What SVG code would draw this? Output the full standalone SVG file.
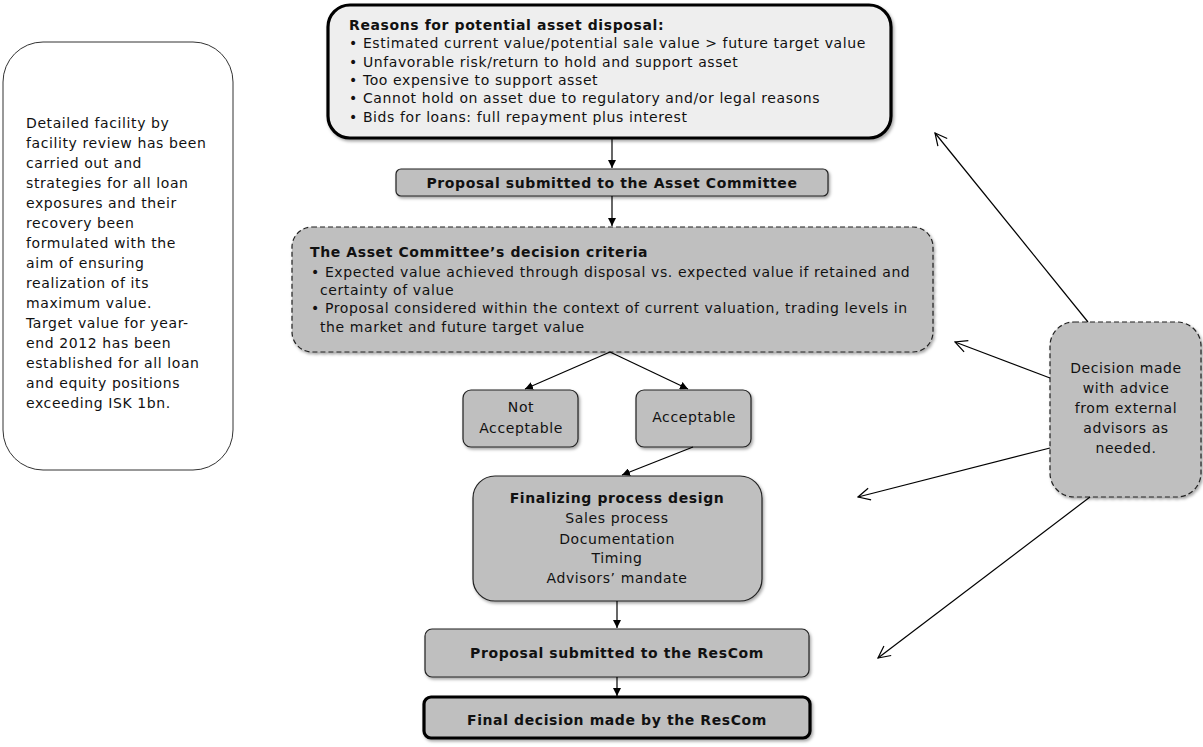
<svg xmlns="http://www.w3.org/2000/svg" width="1203" height="747" viewBox="0 0 1203 747">
<style>
text{font-family:"DejaVu Sans","Verdana",sans-serif;font-size:14px;letter-spacing:0.6px;fill:#111}
.b{font-weight:bold}
.c{text-anchor:middle}
.box{fill:#bfbfbf;stroke:#222;stroke-width:1.2}
.dash{stroke-dasharray:5 3}
.thick{stroke:#000;stroke-width:3.2}
.ln{stroke:#000;stroke-width:1.2;fill:none}
</style>
<defs>
<filter id="sh" x="-10%" y="-10%" width="120%" height="130%">
<feDropShadow dx="1.5" dy="2" stdDeviation="1.5" flood-color="#000" flood-opacity="0.35"/>
</filter>
<marker id="fa" viewBox="0 0 10 10" refX="10" refY="5" markerWidth="8" markerHeight="8" markerUnits="userSpaceOnUse" orient="auto">
<path d="M0,0 L10,5 L0,10 z" fill="#000"/>
</marker>
<marker id="oa" viewBox="0 0 14 14" refX="13" refY="7" markerWidth="14" markerHeight="14" markerUnits="userSpaceOnUse" orient="auto">
<path d="M1,1 L13,7 L1,13" fill="none" stroke="#000" stroke-width="1.2"/>
</marker>
</defs>

<g id="left-note">
<rect x="3" y="42" width="230" height="428" rx="40" fill="#fff" stroke="#333" stroke-width="1"/>
<text x="26" y="128">Detailed facility by</text>
<text x="26" y="148">facility review has been</text>
<text x="26" y="168">carried out and</text>
<text x="26" y="188">strategies for all loan</text>
<text x="26" y="208">exposures and their</text>
<text x="26" y="228">recovery been</text>
<text x="26" y="248">formulated with the</text>
<text x="26" y="268">aim of ensuring</text>
<text x="26" y="288">realization of its</text>
<text x="26" y="308">maximum value.</text>
<text x="26" y="328">Target value for year-</text>
<text x="26" y="348">end 2012 has been</text>
<text x="26" y="368">established for all loan</text>
<text x="26" y="388">and equity positions</text>
<text x="26" y="408">exceeding ISK 1bn.</text>
</g>

<g id="reasons">
<rect x="328" y="5" width="563" height="133" rx="22" fill="#eeeeee" class="thick" filter="url(#sh)"/>
<text x="349" y="30" class="b">Reasons for potential asset disposal:</text>
<text x="349" y="48">• Estimated current value/potential sale value &gt; future target value</text>
<text x="349" y="67">• Unfavorable risk/return to hold and support asset</text>
<text x="349" y="85">• Too expensive to support asset</text>
<text x="349" y="103">• Cannot hold on asset due to regulatory and/or legal reasons</text>
<text x="349" y="122">• Bids for loans: full repayment plus interest</text>
</g>

<g id="proposal-ac">
<rect x="396" y="169" width="432" height="27" rx="5" class="box" filter="url(#sh)"/>
<text x="612" y="188" class="b c">Proposal submitted to the Asset Committee</text>
</g>

<g id="criteria">
<rect x="292" y="227" width="641" height="125" rx="20" class="box dash" filter="url(#sh)"/>
<text x="310" y="257" class="b">The Asset Committee’s decision criteria</text>
<text x="311" y="277">• Expected value achieved through disposal vs. expected value if retained and</text>
<text x="320" y="295">certainty of value</text>
<text x="311" y="313">• Proposal considered within the context of current valuation, trading levels in</text>
<text x="320" y="332">the market and future target value</text>
</g>

<g id="not-acceptable">
<rect x="463" y="390" width="115" height="57" rx="8" class="box" filter="url(#sh)"/>
<text x="521" y="412" class="c">Not</text>
<text x="521" y="433" class="c">Acceptable</text>
</g>

<g id="acceptable">
<rect x="636" y="390" width="115" height="57" rx="8" class="box" filter="url(#sh)"/>
<text x="694" y="422" class="c">Acceptable</text>
</g>

<g id="finalizing">
<rect x="473" y="476" width="289" height="125" rx="22" class="box" filter="url(#sh)"/>
<text x="617" y="503" class="b c">Finalizing process design</text>
<text x="617" y="523" class="c">Sales process</text>
<text x="617" y="544" class="c">Documentation</text>
<text x="617" y="563" class="c">Timing</text>
<text x="617" y="583" class="c">Advisors’ mandate</text>
</g>

<g id="proposal-rescom">
<rect x="425" y="629" width="384" height="48" rx="7" class="box" filter="url(#sh)"/>
<text x="617" y="658" class="b c">Proposal submitted to the ResCom</text>
</g>

<g id="final">
<rect x="424" y="697" width="386" height="41" rx="7" fill="#bfbfbf" class="thick" filter="url(#sh)"/>
<text x="617" y="725" class="b c">Final decision made by the ResCom</text>
</g>

<g id="advisors">
<rect x="1050" y="322" width="151" height="175" rx="24" class="box dash" filter="url(#sh)"/>
<text x="1126" y="373" class="c">Decision made</text>
<text x="1126" y="393" class="c">with advice</text>
<text x="1126" y="413" class="c">from external</text>
<text x="1126" y="433" class="c">advisors as</text>
<text x="1126" y="453" class="c">needed.</text>
</g>

<g id="connectors">
<line x1="612" y1="138" x2="612" y2="168" class="ln" marker-end="url(#fa)"/>
<line x1="612" y1="196" x2="612" y2="226" class="ln" marker-end="url(#fa)"/>
<line x1="610" y1="352" x2="525" y2="389" class="ln" marker-end="url(#fa)"/>
<line x1="610" y1="352" x2="688" y2="389" class="ln" marker-end="url(#fa)"/>
<line x1="693" y1="447" x2="622" y2="475" class="ln" marker-end="url(#fa)"/>
<line x1="617" y1="601" x2="617" y2="628" class="ln" marker-end="url(#fa)"/>
<line x1="617" y1="677" x2="617" y2="696" class="ln" marker-end="url(#fa)"/>
<line x1="1088" y1="322" x2="935" y2="133" class="ln" marker-end="url(#oa)"/>
<line x1="1050" y1="378" x2="955" y2="342" class="ln" marker-end="url(#oa)"/>
<line x1="1050" y1="448" x2="858" y2="497" class="ln" marker-end="url(#oa)"/>
<line x1="1090" y1="497" x2="878" y2="658" class="ln" marker-end="url(#oa)"/>
</g>
</svg>
